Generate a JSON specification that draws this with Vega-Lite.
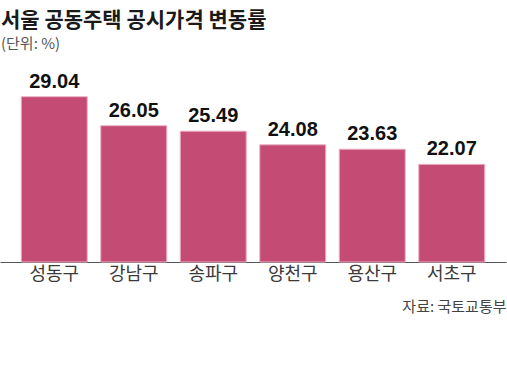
{
  "$schema": "https://vega.github.io/schema/vega-lite/v6.json",
  "width": 506,
  "height": 194,
  "autosize": {"type": "none"},
  "padding": {"left": 0, "top": 68, "right": 1, "bottom": 119},
  "background": "white",
  "title": {
    "text": "서울 공동주택 공시가격 변동률",
    "subtitle": "(단위: %)",
    "anchor": "start",
    "frame": "group",
    "font": "Noto Sans CJK KR",
    "fontSize": 21,
    "fontWeight": "bold",
    "color": "#1a1a1a",
    "subtitleFont": "Noto Sans CJK KR",
    "subtitleFontSize": 15,
    "subtitleColor": "#555555",
    "subtitlePadding": 6,
    "offset": 16,
    "dx": 1
  },
  "data": {
    "values": [
      {"district": "성동구", "rate": 29.04},
      {"district": "강남구", "rate": 26.05},
      {"district": "송파구", "rate": 25.49},
      {"district": "양천구", "rate": 24.08},
      {"district": "용산구", "rate": 23.63},
      {"district": "서초구", "rate": 22.07}
    ]
  },
  "encoding": {
    "x": {
      "field": "district",
      "type": "nominal",
      "sort": null,
      "scale": {"paddingInner": 0.17, "paddingOuter": 0.2675},
      "axis": {
        "title": "자료: 국토교통부",
        "titleAnchor": "end",
        "titleAlign": "right",
        "titleFont": "Noto Sans CJK KR",
        "titleFontSize": 15,
        "titleFontWeight": "normal",
        "titleColor": "#444444",
        "titlePadding": 16,
        "labelAngle": 0,
        "labelFont": "Noto Sans CJK KR",
        "labelFontSize": 18,
        "labelColor": "#3a3a3a",
        "labelPadding": 3,
        "ticks": false,
        "domainColor": "#555555",
        "domainWidth": 1.2,
        "grid": false
      }
    },
    "y": {
      "field": "rate",
      "type": "quantitative",
      "scale": {"domain": [12, 32], "zero": false, "nice": false},
      "axis": null
    }
  },
  "layer": [
    {
      "mark": {"type": "bar", "color": "#c44b74", "stroke": "#eeb0c6", "strokeWidth": 1},
      "encoding": {"y2": {"datum": 12}}
    },
    {
      "mark": {
        "type": "text",
        "baseline": "alphabetic",
        "dy": -9,
        "font": "Liberation Sans",
        "fontSize": 20,
        "fontWeight": "bold",
        "color": "#111111"
      },
      "encoding": {"text": {"field": "rate", "type": "quantitative", "format": ".2f"}}
    }
  ],
  "config": {"view": {"stroke": null}}
}
